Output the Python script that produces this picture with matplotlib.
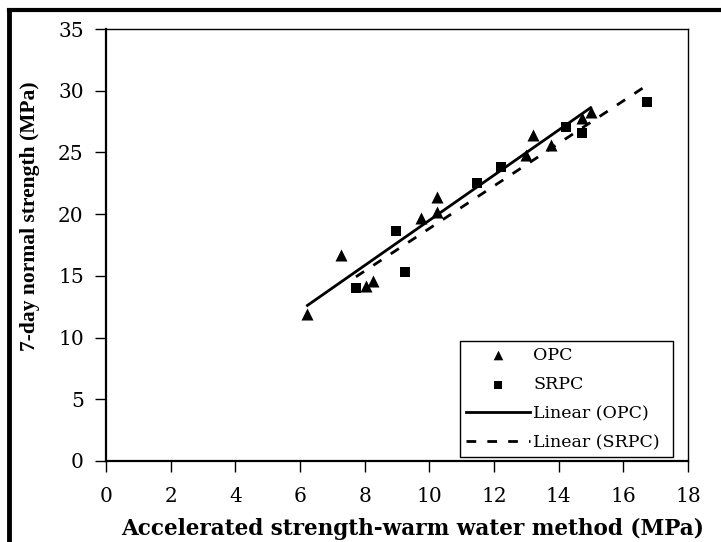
import numpy as np
import matplotlib
matplotlib.use("Agg")
import matplotlib.pyplot as plt
from matplotlib.lines import Line2D

plt.rcParams['font.family'] = ['DejaVu Serif', 'Liberation Serif']

# Data
opc_x = [6.23, 7.26, 8.04, 8.25, 9.73, 10.23, 10.23, 12.99, 13.22, 13.75, 14.71, 14.99]
opc_y = [11.9, 16.7, 14.2, 14.6, 19.7, 21.4, 20.2, 24.8, 26.4, 25.6, 27.8, 28.3]
srpc_x = [7.73, 8.96, 9.24, 11.47, 12.21, 14.22, 14.71, 16.72]
srpc_y = [14.0, 18.6, 15.3, 22.5, 23.8, 27.1, 26.6, 29.1]
x_ticks = [0, 2, 4, 6, 8, 10, 12, 14, 16, 18]
y_ticks = [0, 5, 10, 15, 20, 25, 30, 35]

W, H = 721, 542
fig = plt.figure(figsize=(W / 100, H / 100), dpi=100)
L, R, T, B = 106, 688, 29, 461
ax = fig.add_axes([L / W, 1 - B / H, (R - L) / W, (B - T) / H])

ax.scatter(opc_x, opc_y, marker='^', s=75, color='black', label='OPC', zorder=3, linewidths=0)
ax.scatter(srpc_x, srpc_y, marker='s', s=45, color='black', label='SRPC', zorder=3, linewidths=0)

for xs, ys, ls, lab in [(opc_x, opc_y, '-', 'Linear (OPC)'), (srpc_x, srpc_y, (0, (3.5, 4)), 'Linear (SRPC)')]:
    k, b = np.polyfit(xs, ys, 1)
    xx = np.array([min(xs), max(xs)])
    ax.plot(xx, k * xx + b, color='black', lw=2, linestyle=ls, label=lab, zorder=2)

ax.set_xlim(0, 18)
ax.set_ylim(0, 35)
ax.set_xticks(x_ticks)
ax.set_yticks(y_ticks)
ax.tick_params(axis='both', direction='out', length=8, width=1, labelsize=14.5, colors='black')
ax.tick_params(axis='x', pad=11)
ax.tick_params(axis='y', pad=8)
for s in ['left', 'bottom']:
    ax.spines[s].set_linewidth(1.6)
for s in ['top', 'right']:
    ax.spines[s].set_linewidth(1.0)

ax.text(0.527, -0.171, 'Accelerated strength-warm water method (MPa)', transform=ax.transAxes,
        ha='center', va='baseline', fontsize=15.5, fontweight='bold')
ax.text(-0.131, 0.567, '7-day normal strength (MPa)', transform=ax.transAxes,
        ha='center', va='center', fontsize=15.5, fontweight='bold', rotation=90,
        family='Liberation Serif')

leg = ax.legend(loc='lower left', bbox_to_anchor=(0.608, 0.009, 0.366, 0.264), mode='expand',
                fontsize=12.5, frameon=True, fancybox=False, edgecolor='black', framealpha=1,
                handlelength=3.7, handletextpad=0.2, labelspacing=0.7, borderpad=0.33,
                borderaxespad=0, scatterpoints=1, markerscale=0.8)
leg.get_frame().set_linewidth(1.0)
# Outer frame (top and left edges only)
fig.add_artist(Line2D([9 / W, 1], [1 - 10 / H, 1 - 10 / H], color='black', lw=3, transform=fig.transFigure))
fig.add_artist(Line2D([9 / W, 9 / W], [0, 1 - 10 / H], color='black', lw=3.5, transform=fig.transFigure))

fig.savefig('out.png', dpi=100)
